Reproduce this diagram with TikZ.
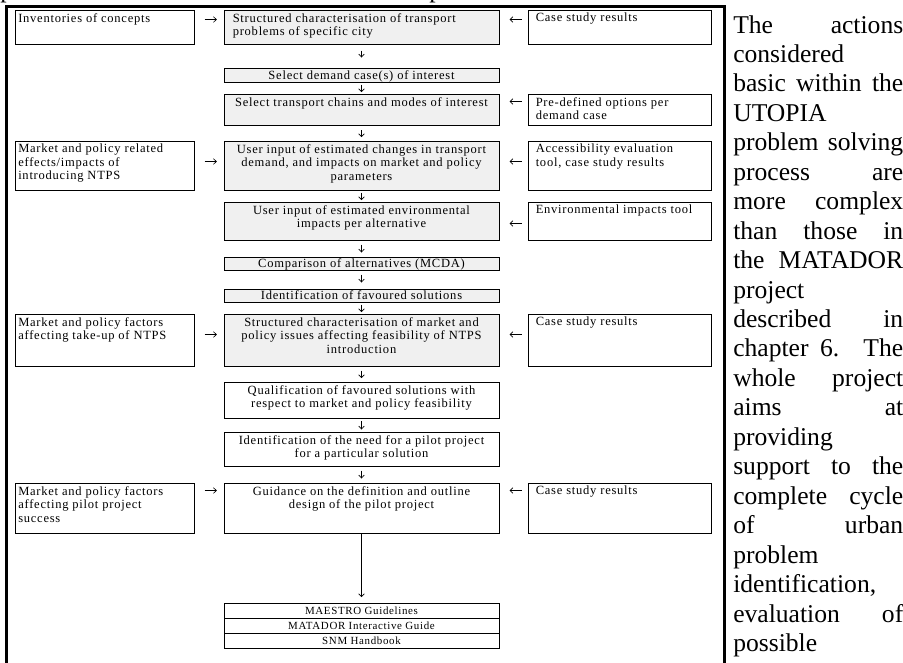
\documentclass[tikz,border=0pt]{standalone}
\usepackage{fontspec}
\setmainfont{Liberation Serif}
\newfontfamily\boxfont[LetterSpace=6]{Liberation Serif}
\usetikzlibrary{arrows.meta,fit,calc}
\definecolor{cellgray}{RGB}{240,240,240}

% a cell drawn as a rectangle between two corner points
\newcommand\cellat[6]{\node[#2, fit={(#3,#4) (#5,#6)}] (#1) {};}

\begin{document}
\begin{tikzpicture}[x=0.75pt,y=-0.75pt,
  cellw/.style={draw=black, line width=0.75pt, fill=white, inner sep=0pt},
  cellg/.style={cellw, fill=cellgray},
  txt/.style={font=\boxfont\fontsize{9.4}{10.1}\selectfont, inner sep=0pt, align=left},
  ctxt/.style={txt, align=center},
  smalltxt/.style={txt, font=\boxfont\fontsize{8.2}{9}\selectfont},
  rtxt/.style={font=\fontsize{19.2}{22}\selectfont, inner sep=0pt, anchor=base west},
  harr/.style={-{Straight Barb[length=2.2pt,width=4.2pt]}, line width=0.5pt},
  varr/.style={harr},
]
\useasboundingbox (0,0) rectangle (903,662);

% descenders of the line above the frame
\begin{scope}
  \clip (0,0) rectangle (903,6);
  \node[rtxt] (pa) at (0,-2.5) {p};
  \node[rtxt] (pb) at (429,-2.5) {p};
\end{scope}

% outer frame
\draw[line width=2.25pt] (6.5,672) -- (6.5,6.5) -- (724,6.5) -- (724,672);

% ---- cells ----
\cellat{l1}{cellw}{15}{10}{194}{44}
\cellat{c1}{cellg}{224}{10}{499}{44}
\cellat{r1}{cellw}{528}{10}{711}{44}
\cellat{c2}{cellg}{224}{68}{499}{82}
\cellat{c3}{cellg}{224}{94}{499}{125}
\cellat{r3}{cellw}{528}{94}{711}{125}
\cellat{l4}{cellw}{15}{141}{194}{190}
\cellat{c4}{cellg}{224}{141}{499}{190}
\cellat{r4}{cellw}{528}{141}{711}{190}
\cellat{c5}{cellg}{224}{202}{499}{240}
\cellat{r5}{cellw}{528}{202}{711}{240}
\cellat{c6}{cellg}{224}{257}{499}{270}
\cellat{c7}{cellg}{224}{289}{499}{302}
\cellat{l8}{cellw}{15}{314}{194}{366}
\cellat{c8}{cellg}{224}{314}{499}{366}
\cellat{r8}{cellw}{528}{314}{711}{366}
\cellat{c9}{cellw}{224}{382}{499}{418}
\cellat{c10}{cellw}{224}{432}{499}{466}
\cellat{l11}{cellw}{15}{483}{194}{533}
\cellat{c11}{cellw}{224}{483}{499}{533}
\cellat{r11}{cellw}{528}{483}{711}{533}
\cellat{m1}{cellw}{224}{603}{499}{618}
\cellat{m2}{cellw}{224}{618}{499}{633}
\cellat{m3}{cellw}{224}{633}{499}{648}

% ---- cell texts ----
\node[txt, anchor=north west] (l1t) at ($(l1.north west)+(3.5,3.5)$) {Inventories of concepts};
\node[txt, anchor=north west] (c1t) at ($(c1.north west)+(9,3.5)$) {Structured characterisation of transport\\problems of specific city};
\node[txt, anchor=north west] (r1t) at ($(r1.north west)+(8,3.5)$) {Case study results};
\node[ctxt, anchor=base] (c2t) at ($(c2.south)+(0,-3.5)$) {Select demand case(s) of interest};
\node[ctxt, anchor=north] (c3t) at ($(c3.north)+(0,3.5)$) {Select transport chains and modes of interest};
\node[txt, anchor=north west] (r3t) at ($(r3.north west)+(8,3.5)$) {Pre-defined options per\\demand case};
\node[txt, anchor=north west] (l4t) at ($(l4.north west)+(3.5,3.5)$) {Market and policy related\\effects/impacts of\\introducing NTPS};
\node[ctxt, anchor=north] (c4t) at ($(c4.north)+(0,3.5)$) {User input of estimated changes in transport\\demand, and impacts on market and policy\\parameters};
\node[txt, anchor=north west] (r4t) at ($(r4.north west)+(8,3.5)$) {Accessibility evaluation\\tool, case study results};
\node[ctxt, anchor=north] (c5t) at ($(c5.north)+(0,3.5)$) {User input of estimated environmental\\impacts per alternative};
\node[txt, anchor=north west] (r5t) at ($(r5.north west)+(8,3.5)$) {Environmental impacts tool};
\node[ctxt, anchor=base] (c6t) at ($(c6.south)+(0,-3.5)$) {Comparison of alternatives (MCDA)};
\node[ctxt, anchor=base] (c7t) at ($(c7.south)+(0,-3.5)$) {Identification of favoured solutions};
\node[txt, anchor=north west] (l8t) at ($(l8.north west)+(3.5,3.5)$) {Market and policy factors\\affecting take-up of NTPS};
\node[ctxt, anchor=north] (c8t) at ($(c8.north)+(0,3.5)$) {Structured characterisation of market and\\policy issues affecting feasibility of NTPS\\introduction};
\node[txt, anchor=north west] (r8t) at ($(r8.north west)+(8,3.5)$) {Case study results};
\node[ctxt, anchor=north] (c9t) at ($(c9.north)+(0,3.5)$) {Qualification of favoured solutions with\\respect to market and policy feasibility};
\node[ctxt, anchor=north] (c10t) at ($(c10.north)+(0,3.5)$) {Identification of the need for a pilot project\\for a particular solution};
\node[txt, anchor=north west] (l11t) at ($(l11.north west)+(3.5,3.5)$) {Market and policy factors\\affecting pilot project\\success};
\node[ctxt, anchor=north] (c11t) at ($(c11.north)+(0,3.5)$) {Guidance on the definition and outline\\design of the pilot project};
\node[txt, anchor=north west] (r11t) at ($(r11.north west)+(8,3.5)$) {Case study results};
\node[smalltxt, anchor=base] (m1t) at ($(m1.south)+(0,-4)$) {MAESTRO Guidelines};
\node[smalltxt, anchor=base] (m2t) at ($(m2.south)+(0,-4)$) {MATADOR Interactive Guide};
\node[smalltxt, anchor=base] (m3t) at ($(m3.south)+(0,-4)$) {SNM Handbook};

% ---- side arrows ----
\draw[harr, shorten <=7.5pt, shorten >=5pt] ($(l1.north east)+(0,10)$) -- ($(c1.north west)+(0,10)$);
\draw[harr, shorten <=4.5pt, shorten >=7.5pt] ($(r1.north west)+(0,10)$) -- ($(c1.north east)+(0,10)$);
\draw[harr, shorten <=4.5pt, shorten >=7.5pt] ($(r3.north west)+(0,8)$) -- ($(c3.north east)+(0,8)$);
\draw[harr, shorten <=7.5pt, shorten >=5pt] ($(l4.north east)+(0,21)$) -- ($(c4.north west)+(0,21)$);
\draw[harr, shorten <=4.5pt, shorten >=7.5pt] ($(r4.north west)+(0,21)$) -- ($(c4.north east)+(0,21)$);
\draw[harr, shorten <=4.5pt, shorten >=7.5pt] ($(r5.north west)+(0,22)$) -- ($(c5.north east)+(0,22)$);
\draw[harr, shorten <=7.5pt, shorten >=5pt] ($(l8.north east)+(0,21)$) -- ($(c8.north west)+(0,21)$);
\draw[harr, shorten <=4.5pt, shorten >=7.5pt] ($(r8.north west)+(0,21)$) -- ($(c8.north east)+(0,21)$);
\draw[harr, shorten <=7.5pt, shorten >=5pt] ($(l11.north east)+(0,8)$) -- ($(c11.north west)+(0,8)$);
\draw[harr, shorten <=4.5pt, shorten >=7.5pt] ($(r11.north west)+(0,8)$) -- ($(c11.north east)+(0,8)$);

% ---- flow arrows down the middle column ----
\draw[varr, shorten <=4.5pt, shorten >=7.5pt] (c1) -- (c2);
\draw[varr, shorten <=1.5pt, shorten >=1pt] (c2) -- (c3);
\draw[varr, shorten <=3.5pt, shorten >=2.5pt] (c3) -- (c4);
\draw[varr, shorten <=1.5pt, shorten >=1pt] (c4) -- (c5);
\draw[varr, shorten <=3pt, shorten >=3pt] (c5) -- (c6);
\draw[varr, shorten <=3pt, shorten >=4.5pt] (c6) -- (c7);
\draw[varr, shorten <=1.5pt, shorten >=1pt] (c7) -- (c8);
\draw[varr, shorten <=3pt, shorten >=2.5pt] (c8) -- (c9);
\draw[varr, shorten <=2pt, shorten >=1.5pt] (c9) -- (c10);
\draw[varr, shorten <=3pt, shorten >=3pt] (c10) -- (c11);
\draw[varr, shorten >=4pt] (c11) -- (m1);

% ---- running text beside the frame ----
\def\rw{127.5pt}
\node[rtxt] (tl1) at (733,33.00) {\makebox[\rw][s]{The actions}};
\node[rtxt] (tl2) at (733,62.45) {\makebox[\rw][l]{considered}};
\node[rtxt] (tl3) at (733,91.90) {\makebox[\rw][s]{basic within the}};
\node[rtxt] (tl4) at (733,121.35) {\makebox[\rw][l]{UTOPIA}};
\node[rtxt] (tl5) at (733,150.80) {\makebox[\rw][s]{problem solving}};
\node[rtxt] (tl6) at (733,180.25) {\makebox[\rw][s]{process are}};
\node[rtxt] (tl7) at (733,209.70) {\makebox[\rw][s]{more complex}};
\node[rtxt] (tl8) at (733,239.15) {\makebox[\rw][s]{than those in}};
\node[rtxt] (tl9) at (733,268.60) {\makebox[\rw][s]{the MATADOR}};
\node[rtxt] (tl10) at (733,298.05) {\makebox[\rw][l]{project}};
\node[rtxt] (tl11) at (733,327.50) {\makebox[\rw][s]{described in}};
\node[rtxt] (tl12) at (733,356.95) {\makebox[\rw][s]{chapter 6. The}};
\node[rtxt] (tl13) at (733,386.40) {\makebox[\rw][s]{whole project}};
\node[rtxt] (tl14) at (733,415.85) {\makebox[\rw][s]{aims at}};
\node[rtxt] (tl15) at (733,445.30) {\makebox[\rw][l]{providing}};
\node[rtxt] (tl16) at (733,474.75) {\makebox[\rw][s]{support to the}};
\node[rtxt] (tl17) at (733,504.20) {\makebox[\rw][s]{complete cycle}};
\node[rtxt] (tl18) at (733,533.65) {\makebox[\rw][s]{of urban}};
\node[rtxt] (tl19) at (733,563.10) {\makebox[\rw][l]{problem}};
\node[rtxt] (tl20) at (733,592.55) {\makebox[\rw][l]{identification,}};
\node[rtxt] (tl21) at (733,622.00) {\makebox[\rw][s]{evaluation of}};
\node[rtxt] (tl22) at (733,651.45) {\makebox[\rw][l]{possible}};
\end{tikzpicture}
\end{document}
